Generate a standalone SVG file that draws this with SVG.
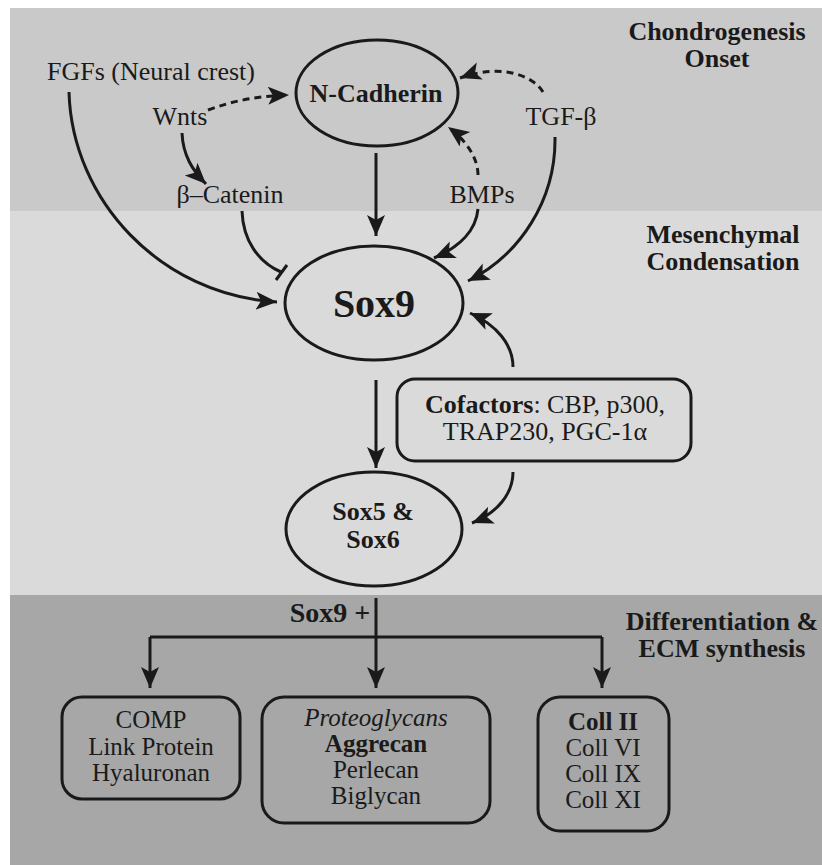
<svg xmlns="http://www.w3.org/2000/svg" width="822" height="865" viewBox="0 0 822 865">
<style>
text{font-family:'Liberation Serif','Tinos','Times New Roman','DejaVu Serif','Noto Serif',serif;fill:#1a1a1a;text-anchor:middle;font-size:26px}
.b{font-weight:bold}
.s{font-size:25px}
.big{font-size:40px}
.plus{font-size:28px}
.shape{fill:none;stroke:#1a1a1a;stroke-width:3}
.c{fill:none;stroke:#1a1a1a;stroke-width:3}
.a{marker-end:url(#ah)}
.d{stroke-dasharray:7 5}
</style>
<defs>
<marker id="ah" markerUnits="userSpaceOnUse" markerWidth="24" markerHeight="20" refX="21" refY="9" orient="auto">
<path d="M0,0 L21,9 L0,18 L5,9 z" fill="#1a1a1a"/>
</marker>
</defs>
<rect x="0" y="0" width="822" height="865" fill="#ffffff"/>
<rect x="10" y="8" width="812" height="203" fill="#c9c9c9"/>
<rect x="10" y="211" width="812" height="384" fill="#dadada"/>
<rect x="10" y="595" width="812" height="270" fill="#a7a7a7"/>

<g id="band-labels">
<text class="b" x="717" y="40">Chondrogenesis</text>
<text class="b" x="717" y="67">Onset</text>
<text class="b" x="723" y="243">Mesenchymal</text>
<text class="b" x="723" y="270">Condensation</text>
<text class="b" x="722" y="630">Differentiation &amp;</text>
<text class="b" x="722" y="657">ECM synthesis</text>
</g>

<g id="fgfs"><text x="151" y="80">FGFs (Neural crest)</text></g>
<g id="wnts"><text x="180" y="125">Wnts</text></g>
<g id="bcatenin"><text x="230" y="203">β–Catenin</text></g>
<g id="bmps"><text x="482" y="203">BMPs</text></g>
<g id="tgfb"><text x="561" y="125">TGF-β</text></g>

<g id="ncadherin">
<ellipse class="shape" cx="377" cy="93" rx="81" ry="53"/>
<text class="b" x="376" y="102">N-Cadherin</text>
</g>
<g id="sox9">
<ellipse class="shape" cx="374" cy="303" rx="89" ry="57"/>
<text class="b big" x="374" y="317">Sox9</text>
</g>
<g id="cofactors">
<rect class="shape" x="397" y="379" width="294" height="82" rx="18"/>
<text x="545" y="413"><tspan font-weight="bold">Cofactors</tspan>: CBP, p300,</text>
<text x="545" y="440">TRAP230, PGC-1α</text>
</g>
<g id="sox56">
<ellipse class="shape" cx="374" cy="529" rx="88" ry="57"/>
<text class="b" x="373" y="520">Sox5 &amp;</text>
<text class="b" x="373" y="548">Sox6</text>
</g>
<g id="sox9plus"><text class="b plus" x="330" y="622">Sox9 +</text></g>
<g id="box-comp">
<rect class="shape" x="62" y="697" width="178" height="102" rx="20"/>
<text class="s" x="151" y="728">COMP</text>
<text class="s" x="151" y="755">Link Protein</text>
<text class="s" x="151" y="781">Hyaluronan</text>
</g>
<g id="box-proteoglycans">
<rect class="shape" x="262" y="697" width="228" height="126" rx="22"/>
<text class="s" x="376" y="726" font-style="italic">Proteoglycans</text>
<text class="s b" x="376" y="752">Aggrecan</text>
<text class="s" x="376" y="778">Perlecan</text>
<text class="s" x="376" y="804">Biglycan</text>
</g>
<g id="box-coll">
<rect class="shape" x="538" y="697" width="131" height="134" rx="22"/>
<text class="s b" x="603" y="730">Coll II</text>
<text class="s" x="603" y="756">Coll VI</text>
<text class="s" x="603" y="782">Coll IX</text>
<text class="s" x="603" y="808">Coll XI</text>
</g>

<g id="connectors">
<path class="c a" d="M69 92 C72 200 160 295 277 302"/>
<path class="c a d" d="M208 110 C235 100 260 96 289 95"/>
<path class="c a" d="M182 133 C183 155 192 170 206 184"/>
<path class="c" d="M242 211 C243 240 258 262 281 272"/>
<path class="c" d="M276 280 L287 265"/>
<path class="c a" d="M376 153 L376 236"/>
<path class="c a d" d="M478 175 C478 158 466 140 448 127"/>
<path class="c a" d="M478 209 C476 230 460 247 434 258"/>
<path class="c a d" d="M543 92 C535 78 505 62 460 78"/>
<path class="c a" d="M555 137 C556 200 520 255 468 281"/>
<path class="c a" d="M513 367 C513 345 497 325 470 313"/>
<path class="c a" d="M376 380 L376 468"/>
<path class="c a" d="M513 472 C513 494 497 513 472 523"/>
<path class="c" d="M376 598 L376 637"/>
<path class="c" d="M150 637 L602 637"/>
<path class="c a" d="M150 637 L150 688"/>
<path class="c a" d="M376 637 L376 688"/>
<path class="c a" d="M602 637 L602 688"/>
</g>
</svg>
